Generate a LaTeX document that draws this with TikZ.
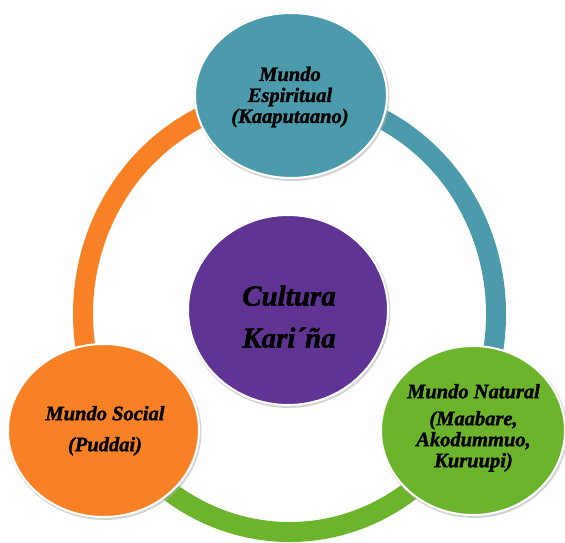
\documentclass[tikz,border=0pt]{standalone}
\usepackage{fontspec}
\setmainfont{Liberation Serif}[BoldItalicFeatures={FakeBold=1.5}]
\usetikzlibrary{shapes.geometric}
\definecolor{cteal}{RGB}{76,155,172}
\definecolor{corange}{RGB}{247,129,36}
\definecolor{cgreen}{RGB}{108,180,44}
\definecolor{cpurple}{RGB}{95,52,147}
\tikzset{
  ringarc/.style={line width=20pt, line cap=butt},
  bubble/.style={ellipse, inner sep=0pt, draw=white, line width=2pt, fill=#1},
  bubshadow/.style={ellipse, inner sep=0pt, fill=black!30, opacity=0.55},
  lbl/.style={align=center, inner sep=0pt, text=black,
    font=\fontsize{20.5}{21}\selectfont\bfseries\itshape},
  biglbl/.style={align=center, inner sep=0pt, text=black,
    font=\fontsize{29}{42}\selectfont\bfseries\itshape},
}
\begin{document}
\begin{tikzpicture}[x=1pt,y=1pt]
\useasboundingbox (0,0) rectangle (565,542);
\fill[white] (0,0) rectangle (565,542);
% ring
\coordinate (rc) at (289.5,228);
\draw[ringarc, corange] ([shift={(90:206.5pt and 218pt)}]rc)
  arc[start angle=90, end angle=210, x radius=206.5pt, y radius=218pt];
\draw[ringarc, cgreen] ([shift={(210:206.5pt and 218pt)}]rc)
  arc[start angle=210, end angle=330, x radius=206.5pt, y radius=218pt];
\draw[ringarc, cteal] ([shift={(330:206.5pt and 218pt)}]rc)
  arc[start angle=330, end angle=450, x radius=206.5pt, y radius=218pt];
% shadows
\node[bubshadow, minimum width=195pt, minimum height=168pt] (tealsh) at (292,445) {};
\node[bubshadow, minimum width=203pt, minimum height=193pt] (purpsh) at (289,230.5) {};
\node[bubshadow, minimum width=194pt, minimum height=176pt] (orgsh) at (104.5,110) {};
\node[bubshadow, minimum width=187pt, minimum height=172pt] (grnsh) at (474,110) {};
% bubbles
\node[bubble=cteal, minimum width=192pt, minimum height=165pt] (teal) at (291,446.5) {};
\node[bubble=cpurple, minimum width=200pt, minimum height=190pt] (purp) at (288,232) {};
\node[bubble=corange, minimum width=191pt, minimum height=173pt] (org) at (103.5,111.5) {};
\node[bubble=cgreen, minimum width=184pt, minimum height=169pt] (grn) at (473,111.5) {};
% labels
\node[lbl] (tealtxt) at (290,445) {Mundo\\Espiritual\\(Kaaputaano)};
\node[biglbl] (purptxt) at (289,225.3) {Cultura\\Kari´ña};
\node[lbl] (orgtxt) at (105,111.2) {Mundo Social\\[10pt](Puddai)};
\node[lbl] (grntxt) at (473.5,114.2) {Mundo Natural\\[6pt](Maabare,\\Akodummuo,\\Kuruupi)};
\end{tikzpicture}
\end{document}
